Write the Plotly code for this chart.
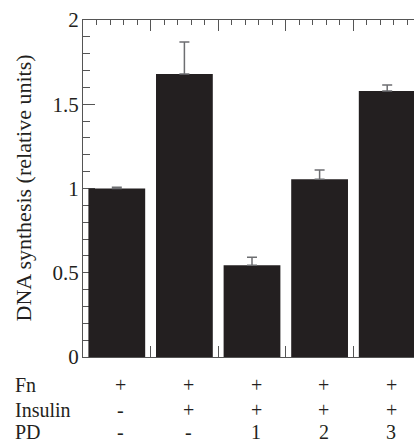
import plotly.graph_objects as go

# Data
conditions = [0, 1, 2, 3, 4]
dna_synthesis = [1.00, 1.68, 0.545, 1.055, 1.578]
error_up = [0.008, 0.19, 0.047, 0.055, 0.036]
row_names = ["Fn", "Insulin", "PD"]
fn_labels = ["+", "+", "+", "+", "+"]
insulin_labels = ["-", "+", "+", "+", "+"]
pd_labels = ["-", "-", "1", "2", "3"]
y_ticks = [0, 0.5, 1, 1.5, 2]
y_ticklabels = ["0", "0.5", "1", "1.5", "2"]

FONT = "Liberation Serif"
BAR = "#231f20"

fig = go.Figure()
fig.add_trace(go.Bar(
    x=conditions, y=dna_synthesis, width=0.84,
    marker=dict(color=BAR, line=dict(width=0)),
    error_y=dict(type="data", symmetric=False, array=error_up,
                 arrayminus=[0] * len(error_up),
                 color="#6d6e71", thickness=1.5, width=5),
    showlegend=False,
))

PLOT_TOP = 20
PLOT_BOTTOM = 357
PLOT_LEFT = 83
H = 445
W = 414
plot_h = PLOT_BOTTOM - PLOT_TOP
plot_w = W - PLOT_LEFT

def py(pix):
    return (PLOT_BOTTOM - pix) / plot_h

def px(pix):
    return (pix - PLOT_LEFT) / plot_w

annotations = []
rows = [fn_labels, insulin_labels, pd_labels]
row_pix = [385, 410, 432]
for name, labels, ypix in zip(row_names, rows, row_pix):
    annotations.append(dict(text=name, xref="paper", yref="paper",
                            x=px(13), y=py(ypix), xanchor="left", yanchor="middle",
                            showarrow=False, font=dict(size=20)))
    for c, lab in zip(conditions, labels):
        annotations.append(dict(text=lab, xref="x", yref="paper",
                                x=c + 0.06, y=py(ypix), xanchor="center", yanchor="middle",
                                showarrow=False, font=dict(size=20)))

annotations.append(dict(text="DNA synthesis (relative units)", textangle=-90,
                        xref="paper", yref="paper", x=px(23), y=0.5,
                        xanchor="center", yanchor="middle", showarrow=False,
                        font=dict(size=22)))

unit_px = 67.6
x_end = -0.5 + plot_w / unit_px

fig.update_layout(
    width=W, height=H,
    font=dict(family=FONT, color="#231f20"),
    margin=dict(l=PLOT_LEFT, r=0, t=PLOT_TOP, b=H - PLOT_BOTTOM, pad=0),
    paper_bgcolor="white", plot_bgcolor="white",
    annotations=annotations,
    xaxis=dict(range=[-0.5, x_end], showgrid=False, zeroline=False,
               showline=True, linecolor="#555", linewidth=1,
               mirror="ticks", ticks="inside", ticklen=11, tickwidth=1, tickcolor="#555",
               tick0=-0.5, dtick=1, showticklabels=False, layer="below traces",
               minor=dict(ticks="inside", ticklen=5, tickwidth=1, tickcolor="#555",
                          dtick=0.2, tick0=-0.5, showgrid=False)),
    yaxis=dict(range=[0, 2], showgrid=False, zeroline=False,
               showline=True, linecolor="#555", linewidth=1,
               ticks="inside", ticklen=12, tickwidth=1, tickcolor="#555",
               tickvals=y_ticks, ticktext=y_ticklabels,
               tickfont=dict(size=21),
               ticklabelstandoff=-1,
               layer="below traces",
               minor=dict(ticks="inside", ticklen=7, tickwidth=1, tickcolor="#555",
                          dtick=0.1, tick0=0, showgrid=False)),
)

fig.write_html("out.html")
